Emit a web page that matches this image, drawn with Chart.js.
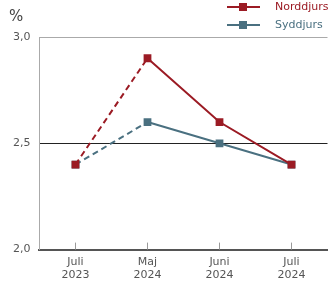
<!DOCTYPE html>
<html>
<head>
<meta charset="utf-8">
<script src="https://cdn.jsdelivr.net/npm/chart.js@4.4.1/dist/chart.umd.min.js"></script>
<style>
  html, body { margin: 0; padding: 0; background: #fff; }
  #wrap { position: relative; width: 333px; height: 283px; font-family: "DejaVu Sans", sans-serif; }
  #unit { position: absolute; left: 9px; top: 7px; font-size: 15px; color: #444; }
  .leg { position: absolute; left: 227px; font-size: 11px; line-height: 13px; }
  .leg .ln { position: absolute; left: 0; top: 7px; width: 33px; height: 2px; }
  .leg .sq { position: absolute; left: 12px; top: 4px; width: 8px; height: 8px; }
  .leg span { position: absolute; left: 48px; top: 1px; white-space: nowrap; }
</style>
</head>
<body>
<div id="wrap">
  <canvas id="c" width="333" height="283"></canvas>
  <div id="unit">%</div>
  <div id="legend"></div>
</div>
<script>
const categories = [['Juli', '2023'], ['Maj', '2024'], ['Juni', '2024'], ['Juli', '2024']];
const norddjurs = [2.4, 2.9, 2.6, 2.4];
const syddjurs = [2.4, 2.6, 2.5, 2.4];
const yTicks = [2.0, 2.5, 3.0];

const RED = '#9b1b24';
const TEAL = '#4a7080';

const series = [
  { label: 'Norddjurs', data: norddjurs, color: RED },
  { label: 'Syddjurs', data: syddjurs, color: TEAL }
];

// legend (HTML)
document.getElementById('legend').innerHTML = series.map((s, i) => `
  <div class="leg" style="top:${-1 + i * 17.5}px">
    <div class="ln" style="background:${s.color}"></div>
    <div class="sq" style="background:${s.color}"></div>
    <span style="color:${s.color}">${s.label}</span>
  </div>`).join('');

// small tick marks on x axis, pointing up into the plot
const innerTicks = {
  id: 'innerTicks',
  afterDatasetsDraw(chart) {
    const x = chart.scales.x, c = chart.ctx;
    c.save();
    c.strokeStyle = '#999';
    c.lineWidth = 1;
    x.ticks.forEach((t, i) => {
      const px = Math.round(x.getPixelForTick(i)) + 0.5;
      c.beginPath();
      c.moveTo(px, x.top - 7);
      c.lineTo(px, x.top);
      c.stroke();
    });
    c.restore();
  }
};

new Chart(document.getElementById('c'), {
  type: 'line',
  data: {
    labels: categories,
    datasets: series.map(s => ({
      label: s.label,
      data: s.data,
      borderColor: s.color,
      backgroundColor: s.color,
      borderWidth: 2,
      pointStyle: 'rect',
      pointRadius: 5.5,
      pointBorderWidth: 0,
      tension: 0,
      segment: {
        borderDash: ctx => ctx.p0DataIndex === 0 ? [6, 4] : undefined
      }
    }))
  },
  options: {
    responsive: false,
    animation: false,
    devicePixelRatio: 1,
    layout: { padding: { top: 37, left: 4, right: 0, bottom: -5 } },
    plugins: { legend: { display: false }, tooltip: { enabled: false } },
    scales: {
      x: {
        offset: true,
        grid: { display: false, drawTicks: false },
        border: { display: true, color: '#555', width: 2 },
        ticks: { color: '#555', font: { family: 'DejaVu Sans', size: 11 }, padding: 6, maxRotation: 0 }
      },
      y: {
        min: 2, max: 3,
        afterBuildTicks: axis => { axis.ticks = yTicks.map(v => ({ value: v })); },
        grid: {
          drawTicks: false,
          color: ctx => ctx.tick && ctx.tick.value === 2.5 ? '#222' : '#aaa',
          lineWidth: ctx => ctx.tick && ctx.tick.value === 2 ? 0 : 1
        },
        border: { display: true, color: '#aaa', width: 1 },
        ticks: {
          color: '#555',
          font: { family: 'DejaVu Sans', size: 11 },
          padding: 9,
          callback: v => v.toFixed(1).replace('.', ',')
        }
      }
    }
  },
  plugins: [innerTicks]
});
</script>
</body>
</html>
